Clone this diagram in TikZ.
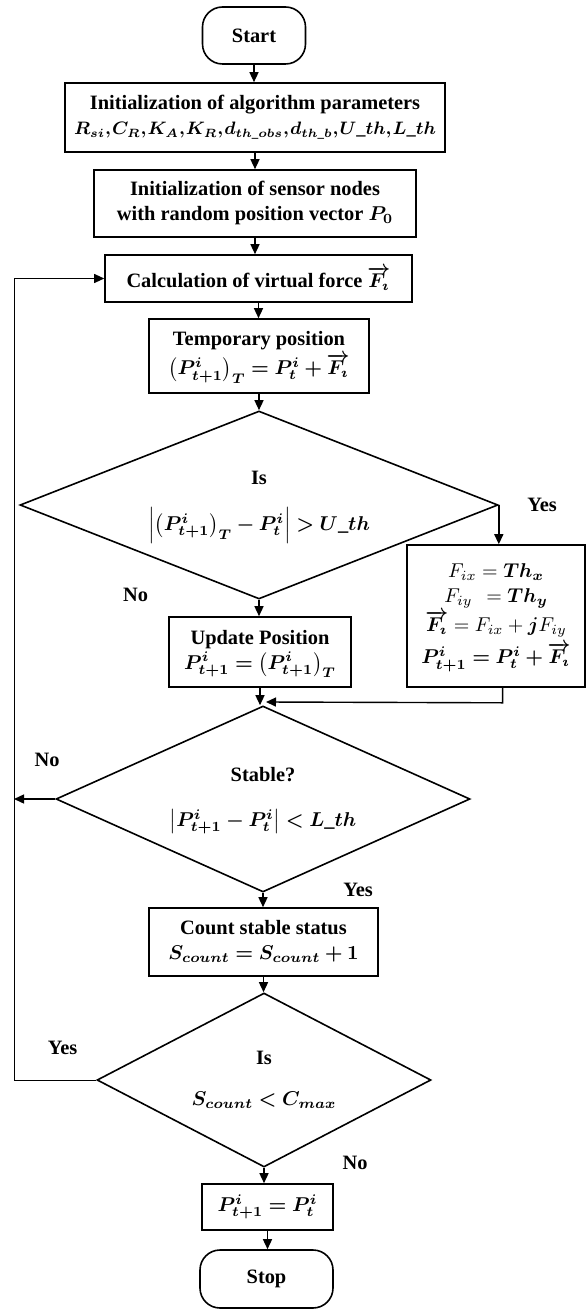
\documentclass[tikz,border=0pt]{standalone}
\usepackage{amsmath}
\usepackage{bm}
\usepackage{fontspec}
\setmainfont{Liberation Serif}
\usetikzlibrary{shapes.geometric,arrows.meta,calc}
\newcommand{\us}{\text{\_}}
\newcommand{\vF}{\overrightarrow{F_\imath}}
\newcommand{\cm}{{,}\mskip1mu}
\newcommand{\ml}[1]{\begin{tabular}{@{}c@{}}#1\end{tabular}}
\begin{document}
\begin{tikzpicture}[x=0.5pt,y=-0.5pt,
  every node/.style={font=\fontsize{10.2}{12.5}\selectfont\bfseries},
  box/.style={draw,line width=0.8pt,inner sep=0pt},
  term/.style={box,rounded corners=10pt},
  dia/.style={diamond,draw,line width=0.8pt,inner sep=0pt},
  arr/.style={-{Triangle[length=5pt,width=4.5pt]},line width=0.7pt},
  thinarr/.style={-{Triangle[length=5pt,width=4.5pt]},line width=0.5pt},
  lbl/.style={inner sep=0pt}]
\useasboundingbox (0,0) rectangle (587,1310);
\node[term,minimum width=51.5pt,minimum height=28.5pt] (start) at (254,35.5) {Start};
\node[box,minimum width=190pt,minimum height=34.5pt] (init) at (255,117.5) {\ml{Initialization of algorithm parameters\\ {\fontsize{9.2}{11}\selectfont$\bm{R_{si}\cm C_R\cm K_A\cm K_R\cm d_{th\us obs}\cm d_{th\us b}\cm U\us th\cm L\us th}$}}};
\node[box,minimum width=161pt,minimum height=33.5pt] (sensor) at (255,203.5) {\ml{Initialization of sensor nodes\\ with random position vector $\bm{P_0}$}};
\node[box,minimum width=153.5pt,minimum height=23.5pt] (calc) at (258.5,278.5) {Calculation of virtual force $\bm{\vF}$};
\node[box,minimum width=110pt,minimum height=37pt] (temp) at (259,356) {\ml{Temporary position\\ $\bm{\left(P^i_{t+1}\right)_T = P^i_t + \vF}$}};
\node[dia,minimum width=239pt,minimum height=94pt,aspect=2.5] (d1) at (259,505) {\ml{Is\\[8pt] $\bm{\left|\left(P^i_{t+1}\right)_T - P^i_t\right| > U\us th}$}};
\node[box,minimum width=89pt,minimum height=71pt] (fx) at (496,616) {\ml{$F_{ix} = \bm{Th_x}$\\ $F_{iy}\ \, = \bm{Th_y}$\\ $\bm{\vF} = F_{ix} + \bm{j}F_{iy}$\\[1.5pt] $\bm{P^i_{t+1} = P^i_t + \vF}$}};
\node[box,minimum width=91pt,minimum height=35pt] (update) at (260,652) {\ml{Update Position\\ $\bm{P^i_{t+1} = \bigl(P^i_{t+1}\bigr)_T}$}};
\node[dia,minimum width=207pt,minimum height=93pt,aspect=2.2] (d2) at (263,799) {\ml{Stable?\\[10pt] $\bm{\left|P^i_{t+1} - P^i_t\right| < L\us th}$}};
\node[box,minimum width=114.5pt,minimum height=34pt] (count) at (263.5,942) {\ml{Count stable status\\ $\bm{S_{count} = S_{count} + 1}$}};
\node[dia,minimum width=167pt,minimum height=87pt,aspect=1.9] (d3) at (264,1080) {\ml{Is\\[8pt] $\bm{S_{count} < C_{max}}$}};
\node[box,minimum width=65.5pt,minimum height=23pt] (final) at (267.5,1207) {$\bm{P^i_{t+1} = P^i_t}$};
\node[term,minimum width=66.5pt,minimum height=29pt] (stop) at (266.5,1279) {Stop};
\node[lbl] (yes1) at (542,505) {Yes};
\node[lbl] (no1) at (135.5,595) {No};
\node[lbl] (no2) at (47,760) {No};
\node[lbl] (yes2) at (358,890) {Yes};
\node[lbl] (yes3) at (62.5,1048) {Yes};
\node[lbl] (no3) at (355,1163) {No};
\coordinate (lx) at (14,1080);
\coordinate (merge) at (266,702);
\draw[arr] (start.south) -- (start.south |- init.north);
\draw[arr] (init.south) -- (init.south |- sensor.north);
\draw[arr] (sensor.south) -- (sensor.south |- calc.north);
\draw[arr] (calc.south) -- (calc.south |- temp.north);
\draw[arr] (temp.south) -- (d1.north);
\draw[arr] (d1.east) -- (d1.east |- fx.north);
\draw[arr] (d1.south) -- (d1.south |- update.north);
\draw[arr] (update.south) -- (update.south |- d2.north);
\draw[arr] ([xshift=3.3pt]fx.south) -- ++(0,15) -- (merge);
\draw[arr] (d2.west) -- (d2.west -| lx);
\draw[arr] (d2.south) -- (d2.south |- count.north);
\draw[arr] (count.south) -- (count.south |- d3.north);
\draw[thinarr] (d3.west) -- (lx) |- (calc.west);
\draw[arr] (d3.south) -- (d3.south |- final.north);
\draw[arr] (final.south) -- (final.south |- stop.north);
\end{tikzpicture}
\end{document}
